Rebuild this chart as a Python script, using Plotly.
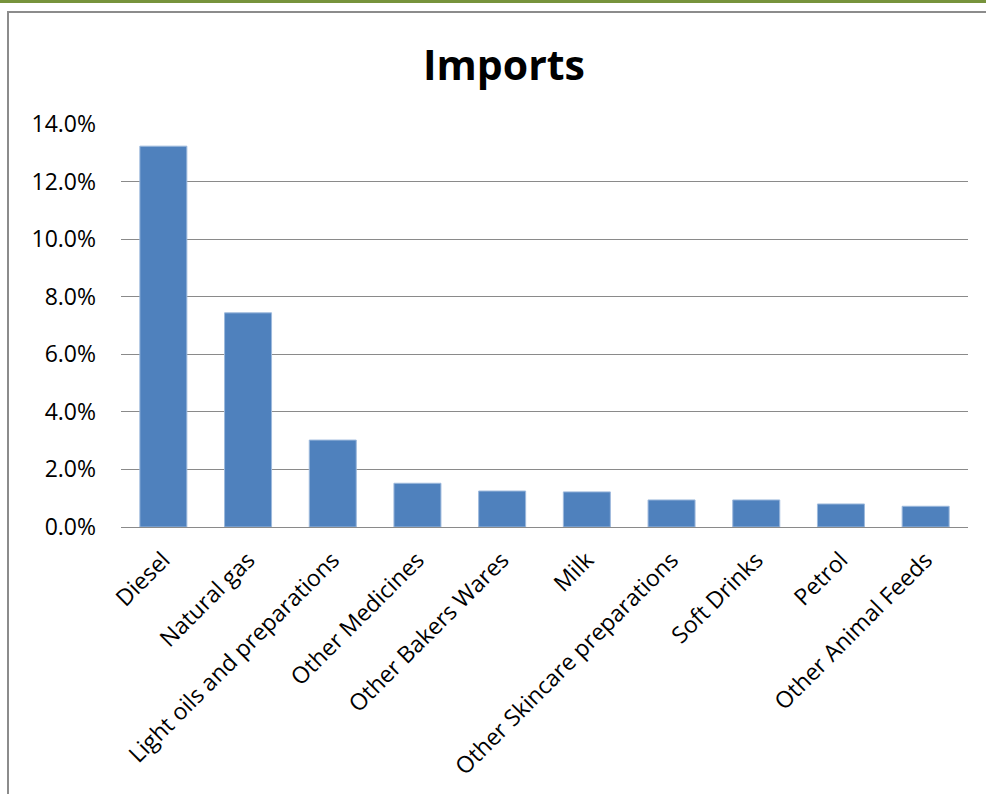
import plotly.graph_objects as go

categories = ["Diesel", "Natural gas", "Light oils and preparations", "Other Medicines",
              "Other Bakers Wares", "Milk", "Other Skincare preparations", "Soft Drinks",
              "Petrol", "Other Animal Feeds"]
shares = [0.1323, 0.0744, 0.0302, 0.0152, 0.0125, 0.0122, 0.0094, 0.0094, 0.0080, 0.0072]
y_ticks = [0.0, 0.02, 0.04, 0.06, 0.08, 0.10, 0.12, 0.14]

W, H = 986, 794
L, R, T, B = 121, 18, 124, 267
pw = W - L - R
ph = H - T - B

def px_x(x):
    return (x - L) / pw

def px_y(y):
    return (H - B - y) / ph

fig = go.Figure(go.Bar(
    x=categories, y=shares,
    marker=dict(color="#4F81BD", line=dict(color="#9DB9DC", width=1)),
    width=0.555,
))

font_family = "Open Sans, Liberation Sans, sans-serif"

fig.update_layout(
    width=W, height=H,
    margin=dict(l=L, r=R, t=T, b=B, autoexpand=False),
    paper_bgcolor="white", plot_bgcolor="white",
    showlegend=False,
    font=dict(family=font_family, color="#000000", size=23),
    title=dict(text="<b>Imports</b>", x=504 / W, xref="container", xanchor="center",
               y=1 - 66 / H, yref="container", yanchor="middle",
               font=dict(size=41, family=font_family, color="#000000")),
    xaxis=dict(tickangle=-45, showgrid=False, showline=False, ticks="",
               tickfont=dict(size=23), ticklabelstandoff=14),
    yaxis=dict(range=[0, 0.14], tickvals=y_ticks, tickformat=".1%",
               showgrid=True, gridcolor="#8A8A8A", gridwidth=1,
               zeroline=True, zerolinecolor="#8A8A8A", zerolinewidth=1,
               showline=False, ticks="", tickfont=dict(size=23),
               ticklabelstandoff=24),
    shapes=[
        dict(type="rect", xref="paper", yref="paper",
             x0=px_x(8), x1=px_x(1005), y0=px_y(820), y1=px_y(12),
             line=dict(color="#8C8C8C", width=2), fillcolor="rgba(0,0,0,0)", layer="below"),
        dict(type="rect", xref="paper", yref="paper",
             x0=px_x(-5), x1=px_x(1000), y0=px_y(3), y1=px_y(-5),
             line=dict(width=0), fillcolor="#77933C"),
    ],
)

fig.write_html("out.html",
               config={"displayModeBar": False},
               post_script="document.body.style.margin='0px';document.body.style.overflow='hidden';")
